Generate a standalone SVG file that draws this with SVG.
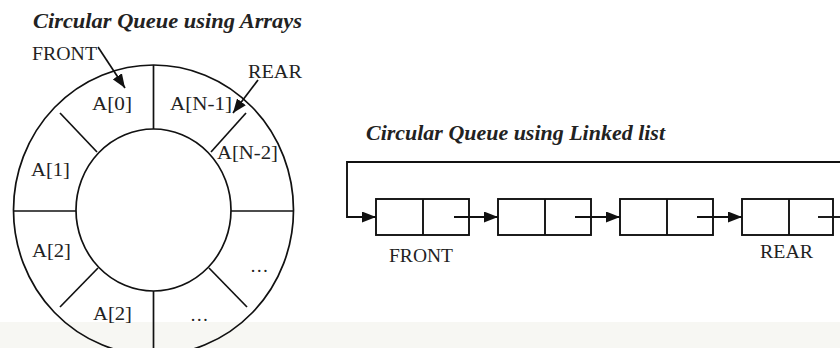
<svg xmlns="http://www.w3.org/2000/svg" width="840" height="348" viewBox="0 0 840 348">
<defs>
<marker id="ah" markerUnits="userSpaceOnUse" markerWidth="14" markerHeight="11" refX="14" refY="5.5" orient="auto">
<path d="M0,0 L14,5.5 L0,11 z" fill="#111"/>
</marker>
<style>
.ln{stroke:#111;stroke-width:1.7;fill:none}
.lb{font-family:"Liberation Serif","Times New Roman",serif;font-size:18.5px;fill:#222}
.tt{font-family:"Liberation Serif","Times New Roman",serif;font-size:20px;font-style:italic;font-weight:bold;fill:#222}
.nd{stroke:#111;stroke-width:1.9;fill:#fff}
</style>
</defs>
<rect x="0" y="0" width="840" height="348" fill="#fff"/>
<rect x="0" y="322" width="840" height="26" fill="#f7f7f3"/>

<g id="array-queue">
<text class="tt" x="33" y="28" textLength="269" lengthAdjust="spacingAndGlyphs">Circular Queue using Arrays</text>
<ellipse class="ln" cx="153.5" cy="210" rx="140" ry="145"/>
<ellipse class="ln" cx="153.5" cy="210" rx="77.5" ry="81"/>
<line class="ln" x1="153.5" y1="65" x2="153.5" y2="129"/>
<line class="ln" x1="153.5" y1="291" x2="153.5" y2="348"/>
<line class="ln" x1="14" y1="211" x2="76" y2="211"/>
<line class="ln" x1="231" y1="211" x2="293" y2="211"/>
<line class="ln" x1="60" y1="113" x2="97" y2="152"/>
<line class="ln" x1="246" y1="113" x2="211" y2="152"/>
<line class="ln" x1="60" y1="307" x2="98" y2="268"/>
<line class="ln" x1="247" y1="307" x2="209" y2="268"/>
<text class="lb" x="92" y="110" textLength="40" lengthAdjust="spacingAndGlyphs">A[0]</text>
<text class="lb" x="170" y="110" textLength="62" lengthAdjust="spacingAndGlyphs">A[N-1]</text>
<text class="lb" x="217" y="159" textLength="61" lengthAdjust="spacingAndGlyphs">A[N-2]</text>
<text class="lb" x="31" y="176" textLength="39" lengthAdjust="spacingAndGlyphs">A[1]</text>
<text class="lb" x="32" y="257" textLength="39" lengthAdjust="spacingAndGlyphs">A[2]</text>
<text class="lb" x="93" y="320" textLength="39" lengthAdjust="spacingAndGlyphs">A[2]</text>
<text class="lb" x="250" y="272">…</text>
<text class="lb" x="190" y="321">…</text>
<text class="lb" x="32" y="60" textLength="65" lengthAdjust="spacingAndGlyphs">FRONT</text>
<text class="lb" x="248" y="78" textLength="54" lengthAdjust="spacingAndGlyphs">REAR</text>
<line class="ln" x1="98" y1="47" x2="125" y2="88" marker-end="url(#ah)"/>
<line class="ln" x1="258" y1="80" x2="233" y2="113" marker-end="url(#ah)"/>
</g>

<text class="tt" x="366" y="140" textLength="299" lengthAdjust="spacingAndGlyphs">Circular Queue using Linked list</text>

<g id="node1"><rect class="nd" x="376" y="199" width="93" height="36"/><line class="nd" x1="423" y1="199" x2="423" y2="235"/></g>
<g id="node2"><rect class="nd" x="498" y="199" width="93" height="36"/><line class="nd" x1="545" y1="199" x2="545" y2="235"/></g>
<g id="node3"><rect class="nd" x="620" y="199" width="93" height="36"/><line class="nd" x1="667" y1="199" x2="667" y2="235"/></g>
<g id="node4"><rect class="nd" x="742" y="199" width="91" height="36"/><line class="nd" x1="789" y1="199" x2="789" y2="235"/></g>

<text class="lb" x="389" y="262" textLength="64" lengthAdjust="spacingAndGlyphs">FRONT</text>
<text class="lb" x="760" y="258" textLength="53" lengthAdjust="spacingAndGlyphs">REAR</text>

<g id="connectors" style="stroke:#111;stroke-width:1.9;fill:none">
<path d="M840,162 H347 V217 H376" marker-end="url(#ah)"/>
<line x1="454" y1="217" x2="498" y2="217" marker-end="url(#ah)"/>
<line x1="575" y1="217" x2="620" y2="217" marker-end="url(#ah)"/>
<line x1="697" y1="217" x2="742" y2="217" marker-end="url(#ah)"/>
<line x1="818" y1="217" x2="840" y2="217"/>
</g>
</svg>
